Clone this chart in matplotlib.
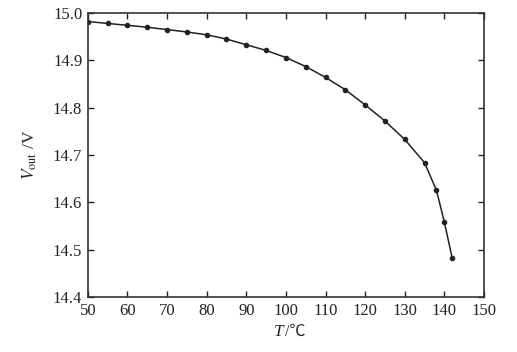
import matplotlib
matplotlib.use("Agg")
import matplotlib.pyplot as plt

# Datos: temperatura (C) y tension de salida (V)
temp = [50, 55, 60, 65, 70, 75, 80, 85, 90, 95, 100, 105, 110, 115,
        120, 125, 130, 135, 138, 140, 142]
vout = [14.982, 14.978, 14.974, 14.970, 14.965, 14.960, 14.954, 14.945,
        14.933, 14.921, 14.906, 14.887, 14.864, 14.838, 14.806, 14.772,
        14.733, 14.684, 14.626, 14.559, 14.482]

xticks = [50, 60, 70, 80, 90, 100, 110, 120, 130, 140, 150]
yticks = [14.4, 14.5, 14.6, 14.7, 14.8, 14.9, 15.0]

plt.rcParams['font.family'] = ['Liberation Serif', 'Noto Sans CJK SC']
plt.rcParams['mathtext.fontset'] = 'stix'

fig = plt.figure(figsize=(5.17, 3.52), dpi=100)
ax = fig.add_axes([0.170, 0.156, 0.766, 0.807])

ax.plot(temp, vout, color='#222222', linewidth=1.1, marker='o', markersize=3)

ax.set_xlim(50, 150)
ax.set_ylim(14.4, 15.0)
ax.set_xticks(xticks)
ax.set_yticks(yticks)
ax.set_yticklabels([f"{v:.1f}" for v in yticks])
ax.tick_params(direction='in', top=True, right=True, length=4, width=1,
               labelsize=12, colors='#222222', pad=4)
for s in ax.spines.values():
    s.set_color('#333333')
    s.set_linewidth(1.2)

# Etiqueta del eje x: T en cursiva y la unidad aparte
fig.text(0.548, 0.056, 'T', fontsize=12.5, fontstyle='italic',
         ha='right', va='center', color='#222222')
fig.text(0.552, 0.056, '/℃', fontsize=11.5, ha='left', va='center',
         color='#222222')

ax.set_ylabel(r'$V_{\rm out}$ /V', fontsize=12.5, labelpad=10, color='#222222')

plt.savefig("out.png", dpi=100)
